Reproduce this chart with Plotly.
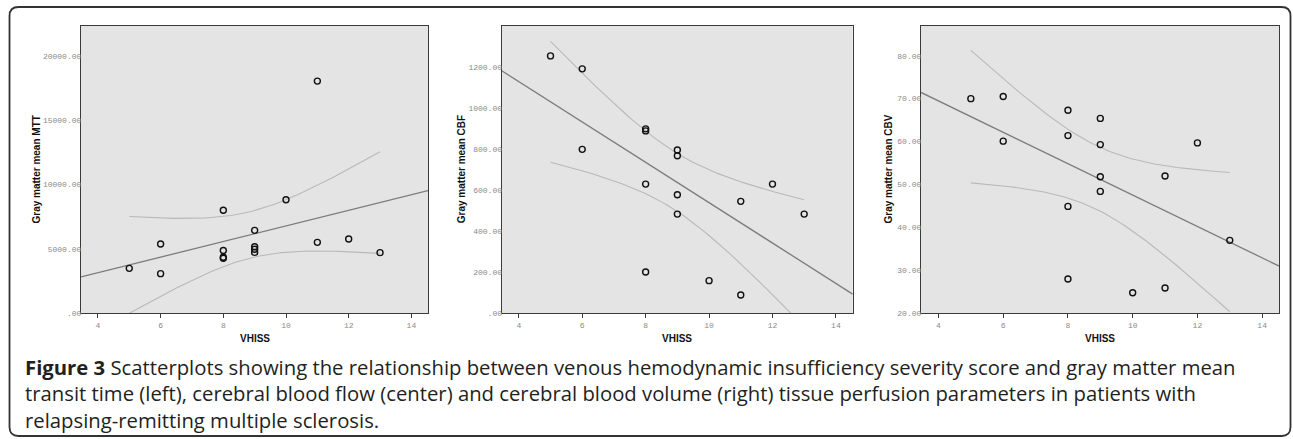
import numpy as np
import plotly.graph_objects as go

# The figure fills the whole 1293x439 window; a tiny post script removes the
# default 8px body margin of the page so nothing overflows.
OFF = 0
W, H = 1293, 439

# ---------------- data ----------------
mtt_x = [5, 6, 6, 8, 8, 8, 8, 9, 9, 9, 9, 10, 11, 11, 12, 13]
mtt_y = [3490, 5380, 3080, 8000, 4880, 4350, 4280, 6440, 5170, 4970, 4730, 8820, 18030, 5510, 5770, 4710]
cbf_x = [5, 6, 6, 8, 8, 8, 8, 9, 9, 9, 9, 10, 11, 11, 12, 13]
cbf_y = [1253, 1190, 798, 898, 888, 629, 201, 795, 767, 577, 483, 159, 545, 89, 629, 483]
cbv_x = [5, 6, 6, 8, 8, 8, 8, 9, 9, 9, 9, 10, 11, 11, 12, 13]
cbv_y = [70.0, 70.5, 60.1, 67.3, 61.4, 44.9, 28.0, 65.4, 59.3, 51.8, 48.4, 24.8, 52.0, 25.9, 59.7, 37.0]

y_titles = ["Gray matter mean MTT", "Gray matter mean CBF", "Gray matter mean CBV"]
x_title = "VHISS"
x_ticks = [4, 6, 8, 10, 12, 14]
y_ticks = [
    [0, 5000, 10000, 15000, 20000],
    [0, 200, 400, 600, 800, 1000, 1200],
    [20, 30, 40, 50, 60, 70, 80],
]
y_ticktext = [
    [".00", "5000.00", "10000.00", "15000.00", "20000.00"],
    [".00", "200.00", "400.00", "600.00", "800.00", "1000.00", "1200.00"],
    ["20.00", "30.00", "40.00", "50.00", "60.00", "70.00", "80.00"],
]
y_ranges = [[0, 22330], [0, 1400], [20, 87]]
x_range = [3.46, 14.53]

caption_lines = [
    "<b>Figure 3</b> Scatterplots showing the relationship between venous hemodynamic insufficiency severity score and gray matter mean",
    "transit time (left), cerebral blood flow (center) and cerebral blood volume (right) tissue perfusion parameters in patients with",
    "relapsing-remitting multiple sclerosis.",
]

series = [(mtt_x, mtt_y), (cbf_x, cbf_y), (cbv_x, cbv_y)]


def xp(px):
    return (px - OFF) / W


def yp(py):
    return 1 - (py - OFF) / H


# panel pixel boxes (left, right) in window pixels
panel_px = [(81, 428), (501.7, 852.7), (921, 1279.3)]
top_px, bot_px = 25.7, 313.3
ytitle_px = [36, 461.7, 888]

T_CRIT = 2.1448  # t(0.975, df=14)

fig = go.Figure()

for i, (xs, ys) in enumerate(series):
    xs = np.asarray(xs, float)
    ys = np.asarray(ys, float)
    n = len(xs)
    b, a = np.polyfit(xs, ys, 1)
    resid = ys - (a + b * xs)
    s = np.sqrt(np.sum(resid ** 2) / (n - 2))
    sxx = np.sum((xs - xs.mean()) ** 2)
    xl = np.linspace(x_range[0], x_range[1], 50)
    xb = np.linspace(xs.min(), xs.max(), 80)
    fit_b = a + b * xb
    se = s * np.sqrt(1 / n + (xb - xs.mean()) ** 2 / sxx)
    suffix = "" if i == 0 else str(i + 1)
    xa, ya = "x" + suffix, "y" + suffix
    fig.add_trace(go.Scatter(x=xl, y=a + b * xl, mode="lines", xaxis=xa, yaxis=ya,
                             line=dict(color="#7c7c7c", width=1.3), hoverinfo="skip"))
    fig.add_trace(go.Scatter(x=xb, y=fit_b + T_CRIT * se, mode="lines", xaxis=xa, yaxis=ya,
                             line=dict(color="#b9b9b9", width=1.1), hoverinfo="skip"))
    fig.add_trace(go.Scatter(x=xb, y=fit_b - T_CRIT * se, mode="lines", xaxis=xa, yaxis=ya,
                             line=dict(color="#b9b9b9", width=1.1), hoverinfo="skip"))
    fig.add_trace(go.Scatter(x=xs, y=ys, mode="markers", xaxis=xa, yaxis=ya,
                             marker=dict(symbol="circle-open", size=6, color="#111111",
                                         line=dict(width=1.4, color="#111111"))))

    l, r = panel_px[i]
    axis_common = dict(showline=True, mirror=True, linecolor="#3a3a3a", linewidth=1.2,
                       showgrid=False, zeroline=False, automargin=False)
    fig.layout["xaxis" + suffix] = dict(
        domain=[xp(l), xp(r)], range=x_range, anchor=ya,
        tickvals=x_ticks, ticks="outside", ticklen=4, tickcolor="#3a3a3a",
        tickfont=dict(family="Liberation Mono", size=8, color="#8a8a8a"),
        **axis_common)
    fig.layout["yaxis" + suffix] = dict(
        domain=[yp(bot_px), yp(top_px)], range=y_ranges[i], anchor=xa,
        tickvals=y_ticks[i], ticktext=y_ticktext[i], ticks="", ticklabelstandoff=-3,
        tickfont=dict(family="Liberation Mono", size=8, color="#8a8a8a"),
        **axis_common)
    # axis titles
    fig.add_annotation(x=xp((l + r) / 2), y=yp(338), xref="paper", yref="paper",
                       xanchor="center", yanchor="middle",
                       text="<b>%s</b>" % x_title, showarrow=False,
                       font=dict(family="Liberation Sans", size=10, color="#111111"))
    fig.add_annotation(x=xp(ytitle_px[i]), y=yp((top_px + bot_px) / 2), xref="paper", yref="paper",
                       xanchor="center", yanchor="middle",
                       text="<b>%s</b>" % y_titles[i], showarrow=False, textangle=-90,
                       font=dict(family="Liberation Sans", size=10, color="#111111"))

# caption (one multi-line text block)
fig.add_annotation(x=xp(23), y=yp(393), xref="paper", yref="paper", xanchor="left",
                   yanchor="middle", align="left", text="<br>".join(caption_lines), showarrow=False,
                   font=dict(family="Open Sans", size=20.3, color="#231f20"))

# rounded frame
x0, x1, y0, y1, rr = 9.5, 1290.5, 7, 436, 9


def P(px, py):
    return "%.5f,%.5f" % (xp(px), yp(py))


path = ("M " + P(x0 + rr, y0) + " L " + P(x1 - rr, y0) + " Q " + P(x1, y0) + " " + P(x1, y0 + rr) +
        " L " + P(x1, y1 - rr) + " Q " + P(x1, y1) + " " + P(x1 - rr, y1) +
        " L " + P(x0 + rr, y1) + " Q " + P(x0, y1) + " " + P(x0, y1 - rr) +
        " L " + P(x0, y0 + rr) + " Q " + P(x0, y0) + " " + P(x0 + rr, y0) + " Z")
fig.add_shape(type="path", path=path, xref="paper", yref="paper",
              line=dict(color="#333333", width=1.8), layer="above")

fig.update_layout(width=W, height=H, margin=dict(l=0, r=0, t=0, b=0, pad=0),
                  paper_bgcolor="white", plot_bgcolor="#e4e4e4", showlegend=False)

fig.write_html("out.html", config={"displayModeBar": False},
               post_script="document.body.style.margin='0';document.body.style.overflow='hidden';")
